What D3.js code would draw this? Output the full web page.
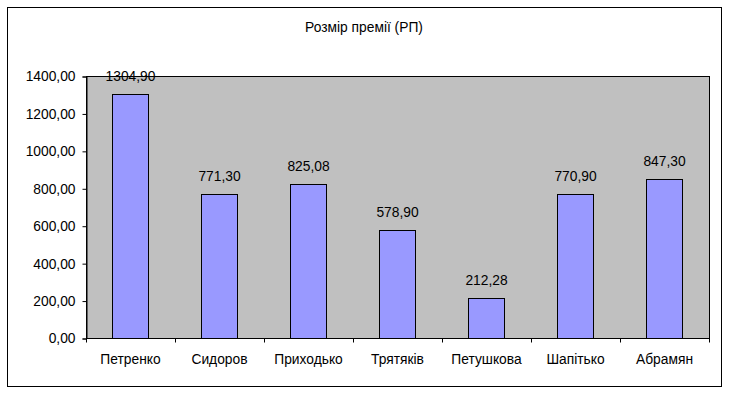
<!DOCTYPE html>
<html>
<head>
<meta charset="utf-8">
<script src="https://cdn.jsdelivr.net/npm/d3@7"></script>
<style>
  body { margin: 0; background: #fff; }
  text { font-family: "Liberation Sans", Arial, sans-serif; fill: #000; }
</style>
</head>
<body>
<svg id="chart"></svg>
<script>
var names = ["Петренко", "Сидоров", "Приходько", "Трятяків", "Петушкова", "Шапітько", "Абрамян"];
var premiums = [1304.90, 771.30, 825.08, 578.90, 212.28, 770.90, 847.30];
var yTicks = [0, 200, 400, 600, 800, 1000, 1200, 1400];
var title = "Розмір премії (РП)";

var width = 729, height = 394;
var margin = { top: 76, right: 20, bottom: 56, left: 86 };
var fontSize = "13.8px";

var svg = d3.select("#chart")
    .attr("width", width)
    .attr("height", height);

// outer frame
svg.append("rect")
    .attr("x", 7.5).attr("y", 7.5)
    .attr("width", 714).attr("height", 379)
    .attr("fill", "#fff")
    .attr("stroke", "#000")
    .attr("stroke-width", 1);

svg.append("text")
    .attr("x", 364)
    .attr("y", 32)
    .attr("text-anchor", "middle")
    .style("font-size", fontSize)
    .text(title);

var x = d3.scaleBand()
    .domain(names)
    .range([margin.left, width - margin.right])
    .paddingInner(0.6)
    .paddingOuter(0.3);

var xBoundary = d3.scaleBand()
    .domain(names)
    .range([margin.left, width - margin.right]);

var y = d3.scaleLinear()
    .domain([0, 1400])
    .range([height - margin.bottom, margin.top]);

var fmt = function (v) { return d3.format(".2f")(v).replace(".", ","); };

// plot area
svg.append("rect")
    .attr("x", margin.left + 0.5)
    .attr("y", margin.top + 0.5)
    .attr("width", width - margin.right - margin.left)
    .attr("height", height - margin.bottom - margin.top)
    .attr("fill", "#c0c0c0")
    .attr("stroke", "#000");

svg.selectAll("rect.bar")
    .data(premiums)
    .enter()
    .append("rect")
    .attr("class", "bar")
    .attr("x", function (d, i) { return Math.floor(x(names[i])) + 0.5; })
    .attr("y", function (d) { return Math.round(y(d)) + 0.5; })
    .attr("width", Math.round(x.bandwidth()))
    .attr("height", function (d) { return Math.round(y(0)) - Math.round(y(d)); })
    .attr("fill", "#9999ff")
    .attr("stroke", "#000")
    .attr("stroke-width", 1);

svg.selectAll("text.val")
    .data(premiums)
    .enter()
    .append("text")
    .attr("class", "val")
    .attr("x", function (d, i) { return x(names[i]) + x.bandwidth() / 2; })
    .attr("y", function (d) { return y(d) - 13; })
    .attr("text-anchor", "middle")
    .style("font-size", fontSize)
    .text(fmt);

// y axis
var yAxis = svg.append("g")
    .attr("transform", "translate(" + (margin.left + 0.5) + ",0.5)")
    .call(d3.axisLeft(y).tickValues(yTicks).tickSize(4).tickPadding(7).tickFormat(fmt));
yAxis.selectAll("text").style("font-size", fontSize).attr("fill", "#000");
yAxis.selectAll("line, path").attr("stroke", "#000");

// x axis with ticks at category boundaries
var xAxis = svg.append("g")
    .attr("transform", "translate(0," + (height - margin.bottom + 0.5) + ")");
xAxis.append("line")
    .attr("x1", margin.left).attr("x2", width - margin.right)
    .attr("stroke", "#000");
xAxis.selectAll("line.tick")
    .data(names.concat([null]))
    .enter()
    .append("line")
    .attr("class", "tick")
    .attr("x1", function (d) { return Math.round(d ? xBoundary(d) : width - margin.right) + 0.5; })
    .attr("x2", function (d) { return Math.round(d ? xBoundary(d) : width - margin.right) + 0.5; })
    .attr("y1", 0).attr("y2", 4)
    .attr("stroke", "#000");
xAxis.selectAll("text")
    .data(names)
    .enter()
    .append("text")
    .attr("x", function (d) { return xBoundary(d) + xBoundary.bandwidth() / 2; })
    .attr("y", 25)
    .attr("text-anchor", "middle")
    .style("font-size", fontSize)
    .text(function (d) { return d; });
</script>
</body>
</html>
